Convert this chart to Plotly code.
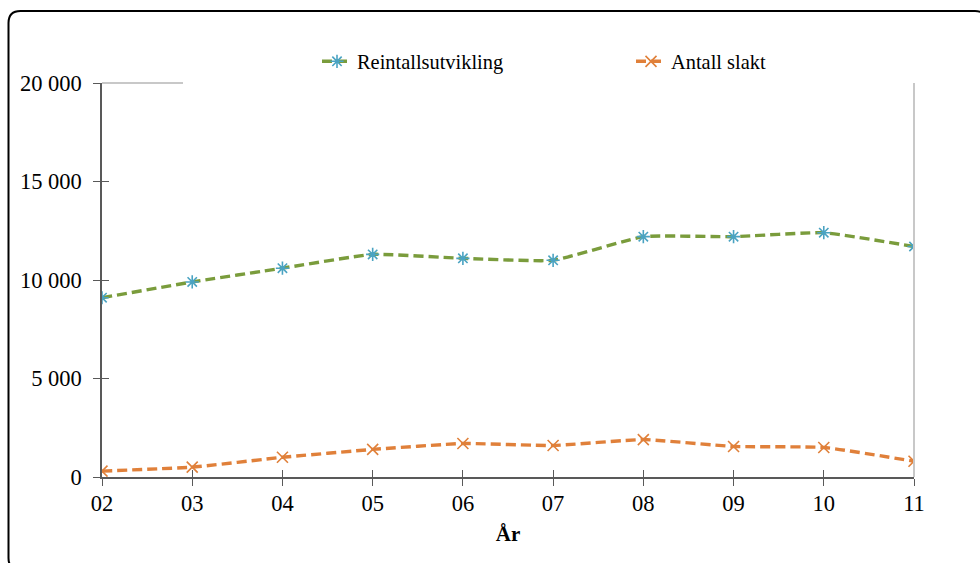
import plotly.graph_objects as go

years = ["02", "03", "04", "05", "06", "07", "08", "09", "10", "11"]
reintall = [9100, 9900, 10600, 11300, 11100, 11000, 12200, 12200, 12400, 11700]
slakt = [300, 500, 1000, 1400, 1700, 1600, 1900, 1550, 1500, 800]
y_ticks = [0, 5000, 10000, 15000, 20000]
y_ticktext = ["0", "5 000", "10 000", "15 000", "20 000"]

W, H = 980, 563
L, R, T, B = 102, 66, 82.5, 86
pw, ph = W - L - R, H - T - B

def px(x):
    return (x - L) / pw

def py(y):
    return (H - B - y) / ph

FONT = "Liberation Serif"
AXC = "#595959"

fig = go.Figure()
fig.add_trace(go.Scatter(
    x=years, y=reintall, name="Reintallsutvikling", mode="lines+markers",
    line=dict(color="#7A9C3C", width=3.4, dash="10px,5px", shape="spline", smoothing=0.4),
    marker=dict(symbol="asterisk-open", size=11, color="#4AA3C2",
                line=dict(color="#4AA3C2", width=1.6)),
))
fig.add_trace(go.Scatter(
    x=years, y=slakt, name="Antall slakt", mode="lines+markers",
    line=dict(color="#E0803A", width=3.4, dash="10px,5px", shape="spline", smoothing=0.4),
    marker=dict(symbol="x-thin-open", size=11, color="#E0803A",
                line=dict(color="#E0803A", width=1.6)),
))

shapes = []
# outer rounded frame
r = 12
x0, y0, x1, y1 = 8.5, 10.5, 987, 570
path = (f"M {px(x0)},{py(y0 + r)} Q {px(x0)},{py(y0)} {px(x0 + r)},{py(y0)} "
        f"L {px(x1 - r)},{py(y0)} Q {px(x1)},{py(y0)} {px(x1)},{py(y0 + r)} "
        f"L {px(x1)},{py(y1 - r)} Q {px(x1)},{py(y1)} {px(x1 - r)},{py(y1)} "
        f"L {px(x0 + r)},{py(y1)} Q {px(x0)},{py(y1)} {px(x0)},{py(y1 - r)} Z")
shapes.append(dict(type="path", xref="paper", yref="paper", path=path,
                   line=dict(color="black", width=2), layer="below"))
# gray decorative lines
shapes.append(dict(type="line", xref="paper", yref="paper", x0=px(102), x1=px(183),
                   y0=1, y1=1, line=dict(color="#C8C8C8", width=2)))
shapes.append(dict(type="line", xref="paper", yref="paper", x0=1, x1=1,
                   y0=0, y1=1, line=dict(color="#C8C8C8", width=2)))

fig.update_layout(
    width=W, height=H,
    margin=dict(l=L, r=R, t=T, b=B),
    paper_bgcolor="white", plot_bgcolor="white",
    font=dict(family=FONT, size=20, color="black"),
    showlegend=True,
    legend=dict(orientation="h", x=px(317), y=py(41), xanchor="left", yanchor="top",
                font=dict(family=FONT, size=20.4), entrywidth=269, entrywidthmode="pixels",
                bgcolor="rgba(0,0,0,0)"),
    shapes=shapes,
    xaxis=dict(
        type="category", range=[0, len(years) - 1],
        showline=True, linecolor=AXC, linewidth=1.5,
        ticks="outside", ticklen=7, tickcolor=AXC, tickwidth=1.2,
        showgrid=False, zeroline=False,
        tickfont=dict(family=FONT, size=22.5),
        ticklabelstandoff=-2,
        title=dict(text="<b>År</b>", font=dict(family=FONT, size=21), standoff=12),
    ),
    yaxis=dict(
        range=[0, 20000], tickvals=y_ticks, ticktext=y_ticktext,
        showline=True, linecolor=AXC, linewidth=1.5,
        ticks="outside", ticklen=7, tickcolor=AXC, tickwidth=1.2,
        showgrid=False, zeroline=False,
        tickfont=dict(family=FONT, size=22.5),
        ticklabelstandoff=7,
    ),
    xaxis2=dict(overlaying="x", range=[0, len(years) - 1], type="category",
                categoryarray=years, anchor="y",
                ticks="inside", ticklen=7, tickcolor=AXC, tickwidth=1.2,
                showticklabels=False, showgrid=False, zeroline=False, showline=False,
                tickvals=years),
    yaxis2=dict(overlaying="y", range=[0, 20000], anchor="x", tickvals=y_ticks,
                ticks="inside", ticklen=7, tickcolor=AXC, tickwidth=1.2,
                showticklabels=False, showgrid=False, zeroline=False, showline=False),
)
fig.add_trace(go.Scatter(x=years, y=[None] * len(years), xaxis="x2", yaxis="y2",
                         showlegend=False, hoverinfo="skip"))

fig.write_html("out.html", config={"displayModeBar": False},
               post_script="document.body.style.margin='0';")
